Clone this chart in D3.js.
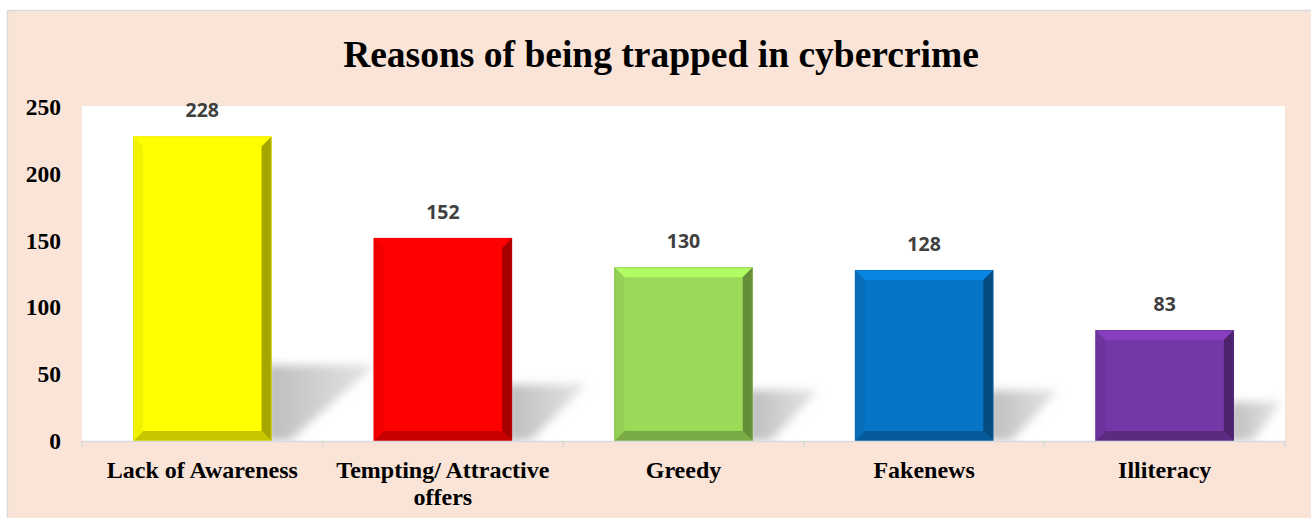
<!DOCTYPE html>
<html><head><meta charset="utf-8">
<script src="https://cdn.jsdelivr.net/npm/d3@7"></script>
<style>body{margin:0;background:#fff}svg{display:block}</style>
</head><body><svg id="c" width="1311" height="518"></svg>
<script>
const categories = ["Lack of Awareness", "Tempting/ Attractive offers", "Greedy", "Fakenews", "Illiteracy"];
const labelLines = [["Lack of Awareness"], ["Tempting/ Attractive", "offers"], ["Greedy"], ["Fakenews"], ["Illiteracy"]];
const values = [228, 152, 130, 128, 83];
const colors = ["#FFFF00", "#FF0000", "#9BDA58", "#0874C6", "#7536A6"];
const yTicks = [0, 50, 100, 150, 200, 250];
const title = "Reasons of being trapped in cybercrime";

const svg = d3.select("#c");
const W = 1311, H = 518;
const plot = {l: 82, r: 1285, t: 107, b: 441};

svg.append("rect").attr("x", 7.5).attr("y", 10.5).attr("width", W).attr("height", H)
  .attr("fill", "#FAE4D8").attr("stroke", "#D9D9D9").attr("stroke-width", 1.5);
svg.append("rect").attr("x", plot.l).attr("y", plot.t - 1).attr("width", plot.r - plot.l).attr("height", plot.b - plot.t + 1)
  .attr("fill", "#fff");

const x = d3.scaleBand().domain(categories).range([plot.l, plot.r]).paddingInner(0.425).paddingOuter(0.2125);
const y = d3.scaleLinear().domain([0, 250]).range([plot.b, plot.t]);

const defs = svg.append("defs");
defs.append("filter").attr("id", "blur").attr("x", "-30%").attr("y", "-30%").attr("width", "160%").attr("height", "160%")
  .append("feGaussianBlur").attr("stdDeviation", 5);
const sg = defs.append("linearGradient").attr("id", "sg").attr("x1", 0).attr("x2", 1).attr("y1", 0).attr("y2", 0);
sg.append("stop").attr("offset", 0).attr("stop-color", "#b8b8b8").attr("stop-opacity", 0.95);
sg.append("stop").attr("offset", 1).attr("stop-color", "#d0d0d0").attr("stop-opacity", 0.6);
defs.append("clipPath").attr("id", "pc").append("rect")
  .attr("x", plot.l).attr("y", plot.t - 1).attr("width", plot.r - plot.l).attr("height", plot.b - plot.t + 1);

// shadows
svg.append("g").attr("clip-path", "url(#pc)").selectAll("path").data(values).join("path")
  .attr("d", (d, i) => {
    const xr = x(categories[i]) + x.bandwidth();
    const bh = plot.b - y(d);
    const h = 18 + 0.19 * bh;
    const w = 15 + 0.29 * bh;
    const b = plot.b;
    return `M${xr - 5},${b} L${xr - 5},${b - h} L${xr + w},${b - h} L${xr + 18},${b} Z`;
  })
  .attr("fill", "url(#sg)").attr("filter", "url(#blur)");

// bars with bevel
const bev = 10;
const g = svg.append("g");
values.forEach((v, i) => {
  const x0 = x(categories[i]), x1 = x0 + x.bandwidth(), y0 = y(v), y1 = plot.b;
  const c = d3.color(colors[i]);
  const bg = g.append("g");
  bg.append("rect").attr("x", x0).attr("y", y0).attr("width", x1 - x0).attr("height", y1 - y0).attr("fill", colors[i]);
  const poly = (pts, fill) => bg.append("polygon").attr("points", pts.map(p => p.join(",")).join(" ")).attr("fill", fill);
  poly([[x0, y0], [x1, y0], [x1 - bev, y0 + bev], [x0 + bev, y0 + bev]], c.brighter(0.4));
  poly([[x1, y0], [x1, y1], [x1 - bev, y1 - bev], [x1 - bev, y0 + bev]], c.darker(1.2));
  poly([[x0, y1], [x1, y1], [x1 - bev, y1 - bev], [x0 + bev, y1 - bev]], c.darker(0.7));
  poly([[x0, y0], [x0 + bev, y0 + bev], [x0 + bev, y1 - bev], [x0, y1]], c.darker(0.15));
  bg.append("rect").attr("x", x0 + 0.5).attr("y", y0 + 0.5).attr("width", x1 - x0 - 1).attr("height", y1 - y0 - 1)
    .attr("fill", "none").attr("stroke", c.darker(0.4)).attr("stroke-opacity", 0.5);
});

// data labels
svg.append("g").selectAll("text").data(values).join("text")
  .attr("x", (d, i) => x(categories[i]) + x.bandwidth() / 2)
  .attr("y", d => y(d) - 19)
  .attr("text-anchor", "middle")
  .attr("font-family", "'Open Sans', Lato, sans-serif").attr("font-weight", 700).attr("font-size", 19.5)
  .attr("fill", "#404040").text(d => d);

// x axis line and ticks
const ax = svg.append("g");
ax.append("line").attr("x1", plot.l).attr("x2", plot.r).attr("y1", plot.b + 0.5).attr("y2", plot.b + 0.5)
  .attr("stroke", "#D9D9D9").attr("stroke-width", 1.5);
const bounds = d3.range(categories.length + 1).map(k => plot.l + k * (plot.r - plot.l) / categories.length);
ax.selectAll("line.t").data(bounds).join("line").attr("class", "t")
  .attr("x1", d => d).attr("x2", d => d).attr("y1", plot.b).attr("y2", plot.b + 6)
  .attr("stroke", "#D9D9D9").attr("stroke-width", 1.5);

// category labels
const cl = svg.append("g").selectAll("text").data(categories).join("text")
  .attr("x", d => x(d) + x.bandwidth() / 2).attr("y", 478)
  .attr("text-anchor", "middle")
  .attr("font-family", "'Liberation Serif', 'Times New Roman', serif").attr("font-weight", 700).attr("font-size", 24)
  .attr("fill", "#000");
cl.each(function(d, i) {
  d3.select(this).selectAll("tspan").data(labelLines[i]).join("tspan")
    .attr("x", x(d) + x.bandwidth() / 2).attr("dy", (t, j) => j === 0 ? 0 : 27).text(t => t);
});

// y tick labels
svg.append("g").selectAll("text").data(yTicks).join("text")
  .attr("x", 61).attr("y", d => y(d) + 8)
  .attr("text-anchor", "end")
  .attr("font-family", "'Liberation Serif', 'Times New Roman', serif").attr("font-weight", 700).attr("font-size", 23.5)
  .attr("fill", "#000").text(d => d);

// title
svg.append("text").attr("x", 661).attr("y", 67).attr("text-anchor", "middle")
  .attr("font-family", "'Liberation Serif', 'Times New Roman', serif").attr("font-weight", 700).attr("font-size", 37.5)
  .attr("fill", "#000").text(title);
</script>
</body></html>
